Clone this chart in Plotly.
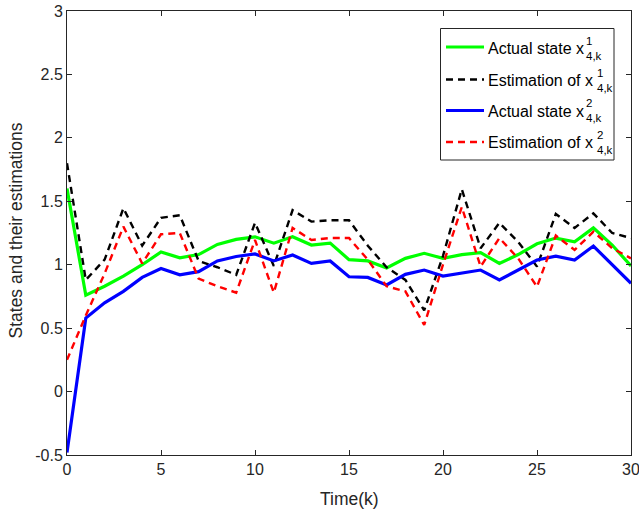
import plotly.graph_objects as go

# ---------------- data ----------------
k = list(range(31))
actual_x1 = [1.60, 0.76, 0.83, 0.91, 1.00, 1.10, 1.055, 1.08, 1.16, 1.20, 1.22,
             1.17, 1.22, 1.155, 1.17, 1.04, 1.03, 0.975, 1.05, 1.09, 1.05,
             1.08, 1.095, 1.01, 1.08, 1.165, 1.21, 1.18, 1.29, 1.155, 0.99]
est_x1 = [1.80, 0.88, 1.04, 1.445, 1.15, 1.37, 1.39, 1.03, 0.98, 0.92, 1.33,
          0.99, 1.43, 1.34, 1.35, 1.35, 1.15, 0.98, 0.88, 0.64, 1.07,
          1.595, 1.13, 1.33, 1.18, 0.985, 1.40, 1.29, 1.405, 1.25, 1.21]
actual_x2 = [-0.48, 0.58, 0.70, 0.79, 0.90, 0.97, 0.92, 0.945, 1.03, 1.065, 1.085,
             1.03, 1.077, 1.01, 1.03, 0.905, 0.90, 0.84, 0.924, 0.958, 0.91,
             0.937, 0.958, 0.88, 0.958, 1.037, 1.068, 1.037, 1.147, 1.0, 0.853]
est_x2 = [0.25, 0.60, 0.93, 1.30, 1.01, 1.24, 1.25, 0.89, 0.83, 0.78, 1.195,
          0.78, 1.29, 1.195, 1.21, 1.21, 1.04, 0.83, 0.79, 0.525, 1.0,
          1.455, 0.985, 1.21, 1.05, 0.826, 1.23, 1.116, 1.26, 1.13, 1.05]

x_ticks = [0, 5, 10, 15, 20, 25, 30]
y_ticks = [-0.5, 0, 0.5, 1, 1.5, 2, 2.5, 3]
y_tick_labels = ["-0.5", "0", "0.5", "1", "1.5", "2", "2.5", "3"]

series_names = ["Actual state x", "Estimation of x", "Actual state x", "Estimation of x"]
series_sup = ["1", "1", "2", "2"]
series_sub = ["4,k", "4,k", "4,k", "4,k"]
series_colors = ["#00FF00", "#000000", "#0000FF", "#FF0000"]
series_dash = ["solid", "7px,5px", "solid", "7px,5px"]
series_width = [3.2, 2.4, 3.2, 2.4]
series_data = [actual_x1, est_x1, actual_x2, est_x2]

# ---------------- layout geometry (pixels) ----------------
W, H = 639, 512
L, R, T, B = 67, 631, 11, 455
FONT = "Liberation Sans, Arial, Helvetica, sans-serif"
AX = "#262626"


def px_x(p):
    return (p - L) / (R - L)


def px_y(p):
    return (B - p) / (B - T)


fig = go.Figure()
for name, sup, sub, c, d, w, ys in zip(series_names, series_sup, series_sub,
                                        series_colors, series_dash, series_width,
                                        series_data):
    fig.add_trace(go.Scatter(
        x=k, y=ys, mode="lines",
        name=f"{name}<sup>{sup}</sup><sub>{sub}</sub>",
        line=dict(color=c, width=w, dash=d),
        showlegend=False,
    ))

axis_common = dict(
    showline=True, linecolor=AX, linewidth=1, mirror="ticks",
    ticks="inside", ticklen=5, tickcolor=AX, tickwidth=1,
    showgrid=False, zeroline=False, automargin=False,
    ticklabeloverflow="allow",
    tickfont=dict(family=FONT, size=16, color=AX),
)

fig.update_layout(
    width=W, height=H, autosize=False,
    margin=dict(l=L, r=W - R, t=T, b=H - B, pad=0, autoexpand=False),
    paper_bgcolor="white", plot_bgcolor="white",
    xaxis=dict(range=[0, 30], tickvals=x_ticks, **axis_common),
    yaxis=dict(range=[-0.5, 3], tickvals=y_ticks, ticktext=y_tick_labels,
               **axis_common),
    font=dict(family=FONT, color=AX),
)

shapes = []
annotations = []

# axis titles
annotations.append(dict(xref="paper", yref="paper", x=px_x(349), y=px_y(499),
                        text="Time(k)", showarrow=False,
                        font=dict(family=FONT, size=17.5, color=AX),
                        xanchor="center", yanchor="middle"))
annotations.append(dict(xref="paper", yref="paper", x=px_x(15.5), y=px_y(231),
                        text="States and their estimations", showarrow=False,
                        textangle=-90,
                        font=dict(family=FONT, size=17.5, color=AX),
                        xanchor="center", yanchor="middle"))

# legend box
shapes.append(dict(type="rect", xref="paper", yref="paper",
                   x0=px_x(440.5), x1=px_x(614), y0=px_y(160), y1=px_y(28.5),
                   line=dict(color=AX, width=1), fillcolor="white", layer="above"))

row_y = [47, 79.5, 110.5, 142]
text_y = [48.7, 80.7, 111.3, 143]
sup_x = [585, 596, 585, 596]
for i in range(4):
    shapes.append(dict(type="line", xref="paper", yref="paper",
                       x0=px_x(446), x1=px_x(484), y0=px_y(row_y[i]), y1=px_y(row_y[i]),
                       line=dict(color=series_colors[i], width=series_width[i],
                                 dash=series_dash[i]), layer="above"))
    annotations.append(dict(xref="paper", yref="paper", x=px_x(487), y=px_y(text_y[i]),
                            text=series_names[i], showarrow=False,
                            font=dict(family=FONT, size=16, color="#000000"),
                            xanchor="left", yanchor="middle", borderpad=0))
    # stacked superscript / subscript
    annotations.append(dict(xref="paper", yref="paper", x=px_x(sup_x[i]),
                            y=px_y(text_y[i] - 0.5),
                            text=f"{series_sup[i]}<br>{series_sub[i]}",
                            showarrow=False, align="left",
                            font=dict(family=FONT, size=11.5, color="#000000"),
                            xanchor="left", yanchor="middle", borderpad=0))

fig.update_layout(shapes=shapes, annotations=annotations)

post = """
document.documentElement.style.cssText = 'margin:0;padding:0;overflow:hidden;';
document.body.style.cssText = 'margin:0;padding:0;overflow:hidden;';
"""

fig.write_html(
    "out.html",
    config={"displayModeBar": False},
    post_script=post,
)
